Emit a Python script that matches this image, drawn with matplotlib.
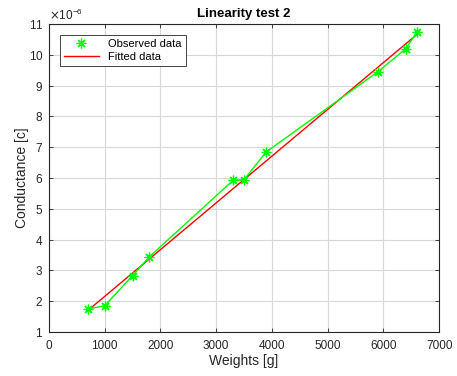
import matplotlib.pyplot as plt
from matplotlib.ticker import ScalarFormatter

plt.rcParams['font.family'] = ['Liberation Sans', 'DejaVu Sans']

# observed data (conductance in units of 1e-6)
weights = [700, 1000, 1500, 1800, 3300, 3500, 3900, 5900, 6400, 6600]
conductance = [1.75, 1.85, 2.83, 3.44, 5.92, 5.95, 6.85, 9.45, 10.2, 10.73]

# fitted line end points
fit_x = [700, 6600]
fit_y = [1.70, 10.66]

scale = 1e-6
dark = '#262626'
star = (8, 2, 0)  # asterisk like marker

fig = plt.figure(figsize=(4.57, 3.76), dpi=100)
ax = fig.add_axes([0.107, 0.117, 0.854, 0.819])

ax.plot(weights, [v * scale for v in conductance], color='#00ff00', lw=1.0, zorder=3)
ax.plot(weights, [v * scale for v in conductance], linestyle='none', marker=star,
        color='#00ff00', ms=7, mew=0.9, label='Observed data', zorder=4)
ax.plot(fit_x, [v * scale for v in fit_y], color='#ff0000', lw=1.0,
        label='Fitted data', zorder=2)

ax.set_xlim(0, 7000)
ax.set_ylim(1e-6, 11e-6)
ax.set_xticks(range(0, 7001, 1000))
ax.set_yticks([i * scale for i in range(1, 12)])

fmt = ScalarFormatter(useMathText=True)
fmt.set_powerlimits((-6, -6))
ax.yaxis.set_major_formatter(fmt)
ax.yaxis.get_offset_text().set_fontsize(8.5)
ax.yaxis.get_offset_text().set_color(dark)

ax.grid(True, color='#d8d8d8', lw=0.8)
ax.set_axisbelow(True)
ax.tick_params(direction='in', top=True, right=True, labelsize=8.5,
               colors=dark, length=3, width=0.6)
ax.tick_params(axis='x', pad=6)
ax.tick_params(axis='y', pad=4)
for s in ax.spines.values():
    s.set_color(dark)
    s.set_linewidth(0.8)

ax.set_title('Linearity test 2', fontsize=9.5, fontweight='bold', pad=5)
ax.set_xlabel('Weights [g]', fontsize=10, color=dark, labelpad=1)
ax.set_ylabel('Conductance [c]', fontsize=10, color=dark, labelpad=0)

leg = ax.legend(loc='upper left', bbox_to_anchor=(0.028, 0.964), fontsize=8,
                fancybox=False, edgecolor=dark, framealpha=1, borderaxespad=0,
                handlelength=3.2, borderpad=0.35, labelspacing=0.25)
leg.get_frame().set_linewidth(0.6)

fig.savefig('out.png', dpi=100)
